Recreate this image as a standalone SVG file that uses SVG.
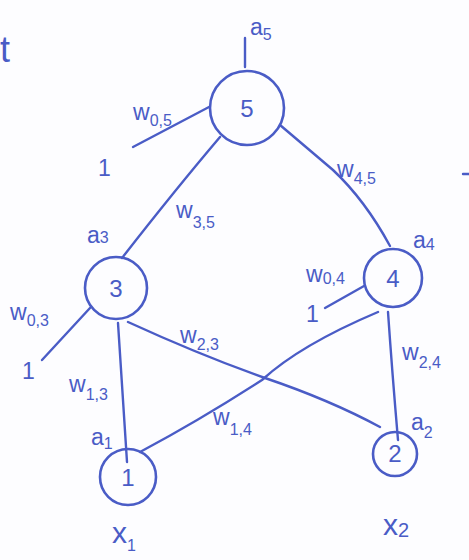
<svg xmlns="http://www.w3.org/2000/svg" width="469" height="560" viewBox="0 0 469 560">
<style>
.ln{fill:none;stroke:#4a5cc6;stroke-width:2.4;stroke-linecap:round;stroke-linejoin:round}
.nd{fill:none;stroke:#4a5cc6;stroke-width:2.6}
.t{fill:#4a5cc6;font-family:"Liberation Sans",Arial,sans-serif;font-size:23px}
.s{font-size:16px}
.n{font-size:24px;text-anchor:middle}
.x{font-size:30px}
</style>
<rect width="469" height="560" fill="#fdfdff"/>
<g id="connectors">
<path class="ln" d="M245 38 L245 67"/>
<path class="ln" d="M133 147 L209 107"/>
<path class="ln" d="M220 137 Q175 190 122 258"/>
<path class="ln" d="M280 125 L333 170 Q365 200 390 246"/>
<path class="ln" d="M325 308 L364 286"/>
<path class="ln" d="M42 360 L90 308"/>
<path class="ln" d="M118 323 L127 462"/>
<path class="ln" d="M128 322 Q200 355 265 378 Q330 400 380 427"/>
<path class="ln" d="M378 312 Q300 345 262 380 Q200 420 140 452"/>
<path class="ln" d="M388 312 Q392 370 398 440"/>
<path class="ln" d="M463 174 L469 174"/>
</g>
<g id="node5"><circle class="nd" cx="247" cy="108" r="37"/><text class="t n" x="247" y="117">5</text></g>
<g id="node3"><circle class="nd" cx="116" cy="288" r="31"/><text class="t n" x="116" y="297">3</text></g>
<g id="node4"><circle class="nd" cx="393" cy="278" r="29"/><text class="t n" x="393" y="287">4</text></g>
<g id="node1"><circle class="nd" cx="128" cy="477" r="28"/><text class="t n" x="128" y="486">1</text></g>
<g id="node2"><circle class="nd" cx="395" cy="454" r="22"/><text class="t n" x="395" y="462">2</text></g>
<g id="labels">
<text class="t" x="250" y="35">a<tspan class="s" dy="5">5</tspan></text>
<text class="t" x="133" y="120">w<tspan class="s" dy="6">0,5</tspan></text>
<text class="t" x="98" y="176">1</text>
<text class="t" x="337" y="177">w<tspan class="s" dy="7">4,5</tspan></text>
<text class="t" x="176" y="218">w<tspan class="s" dy="10">3,5</tspan></text>
<text class="t" x="87" y="243">a<tspan class="s" dy="0">3</tspan></text>
<text class="t" x="413" y="248">a<tspan class="s" dy="2">4</tspan></text>
<text class="t" x="306" y="282">w<tspan class="s" dy="2">0,4</tspan></text>
<text class="t" x="306" y="322">1</text>
<text class="t" x="10" y="320">w<tspan class="s" dy="6">0,3</tspan></text>
<text class="t" x="22" y="379">1</text>
<text class="t" x="180" y="343">w<tspan class="s" dy="7">2,3</tspan></text>
<text class="t" x="402" y="360">w<tspan class="s" dy="8">2,4</tspan></text>
<text class="t" x="69" y="392">w<tspan class="s" dy="8">1,3</tspan></text>
<text class="t" x="213" y="425">w<tspan class="s" dy="10">1,4</tspan></text>
<text class="t" x="91" y="445">a<tspan class="s" dy="4">1</tspan></text>
<text class="t" x="411" y="430">a<tspan class="s" dy="8">2</tspan></text>
<text class="t x" x="112" y="543">x<tspan class="s" dy="8">1</tspan></text>
<text class="t x" x="383" y="535">x<tspan class="s" dy="2" style="font-size:20px">2</tspan></text>
<text class="t" x="0" y="62" style="font-size:36px">t</text>
</g>
</svg>
